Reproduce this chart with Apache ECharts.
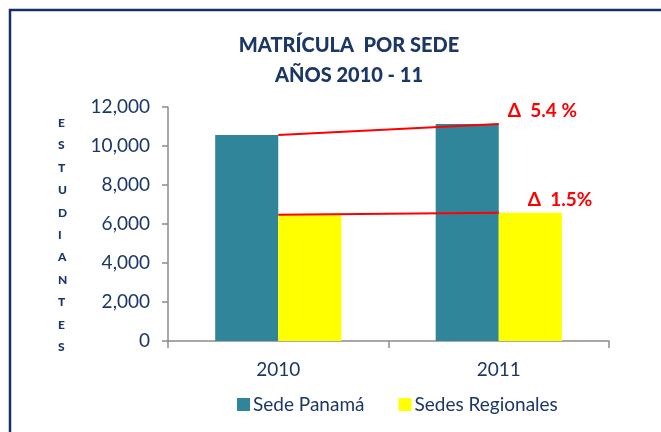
<!DOCTYPE html>
<html>
<head>
<meta charset="utf-8">
<script src="https://cdn.jsdelivr.net/npm/echarts@6/dist/echarts.min.js"></script>
<style>
html, body { margin: 0; padding: 0; background: #fff; }
#chart { width: 661px; height: 432px; }
</style>
</head>
<body>
<div id="chart"></div>
<script>
var years = ['2010', '2011'];
var sedePanama = [10560, 11130];
var sedesRegionales = [6480, 6580];
var yTicks = [0, 2000, 4000, 6000, 8000, 10000, 12000];
var deltaLabels = ['Δ  5.4 %', 'Δ  1.5%'];
var axisLetters = 'ESTUDIANTES';

var navy = '#1B3767';
var font = 'Lato';

function fmt(v) {
	return v.toLocaleString('en-US');
}

// etiqueta roja al final de cada linea
function deltaLabel(text, dist) {
	return {
		show: true, position: 'right', distance: dist, offset: [0, -13],
		formatter: text, color: '#FF0000', fontSize: 19, fontWeight: 'bold', fontFamily: font
	};
}

var chart = echarts.init(document.getElementById('chart'));
chart.setOption({
	animation: false,
	textStyle: { fontFamily: font },
	title: {
		text: 'MATRÍCULA  POR SEDE\nAÑOS 2010 - 11',
		left: 344,
		top: 26,
		textAlign: 'center',
		textStyle: { fontSize: 20, fontWeight: 900, color: navy, lineHeight: 30, fontFamily: font }
	},
	graphic: [{
		type: 'rect',
		shape: { x: 10, y: 10, width: 700, height: 500 },
		style: { fill: 'none', stroke: '#12306A', lineWidth: 2.5 },
		silent: true
	}, {
		type: 'text',
		left: 58,
		top: 112,
		style: {
			text: axisLetters.split('').join('\n'),
			fontSize: 12,
			fontWeight: 900,
			fill: navy,
			lineHeight: 22.4,
			align: 'center',
			fontFamily: font
		}
	}],
	legend: {
		bottom: 13,
		left: 232,
		itemWidth: 13,
		itemHeight: 13,
		itemGap: 34,
		icon: 'rect',
		data: ['Sede Panamá', 'Sedes Regionales'],
		textStyle: { fontSize: 19, color: navy, padding: [0, 0, 0, -2] }
	},
	grid: { left: 168, right: 52, top: 107, bottom: 91 },
	xAxis: [{
		type: 'category',
		data: years,
		axisLine: { lineStyle: { color: '#8C8C8C', width: 1.5 } },
		axisTick: { show: true, length: 7, lineStyle: { color: '#8C8C8C', width: 1.5 } },
		axisLabel: { fontSize: 19, color: navy, margin: 19 }
	}, {
		type: 'value',
		min: 0,
		max: 2,
		show: false
	}],
	yAxis: {
		type: 'value',
		min: yTicks[0],
		max: yTicks[yTicks.length - 1],
		interval: 2000,
		axisLine: { show: true, lineStyle: { color: '#8C8C8C', width: 1.5 } },
		axisTick: { show: true, length: 6, lineStyle: { color: '#8C8C8C', width: 1.5 } },
		splitLine: { show: false },
		axisLabel: { fontSize: 19, color: navy, margin: 18, formatter: fmt }
	},
	series: [{
		name: 'Sede Panamá',
		type: 'bar',
		data: sedePanama,
		barWidth: '28.6%',
		barGap: '0%',
		itemStyle: { color: '#31859B' }
	}, {
		name: 'Sedes Regionales',
		type: 'bar',
		data: sedesRegionales,
		barWidth: '28.6%',
		itemStyle: { color: '#FFFF00' }
	}, {
		type: 'line',
		xAxisIndex: 1,
		symbol: 'circle',
		symbolSize: 0,
		showSymbol: true,
		lineStyle: { color: '#FF0000', width: 2 },
		itemStyle: { color: '#FF0000' },
		data: [[0.5, sedePanama[0]], { value: [1.5, sedePanama[1]], label: deltaLabel(deltaLabels[0], 9) }]
	}, {
		type: 'line',
		xAxisIndex: 1,
		symbol: 'circle',
		symbolSize: 0,
		showSymbol: true,
		lineStyle: { color: '#FF0000', width: 2 },
		itemStyle: { color: '#FF0000' },
		data: [[0.5, sedesRegionales[0]], { value: [1.5, sedesRegionales[1]], label: deltaLabel(deltaLabels[1], 29) }]
	}]
});
</script>
</body>
</html>
